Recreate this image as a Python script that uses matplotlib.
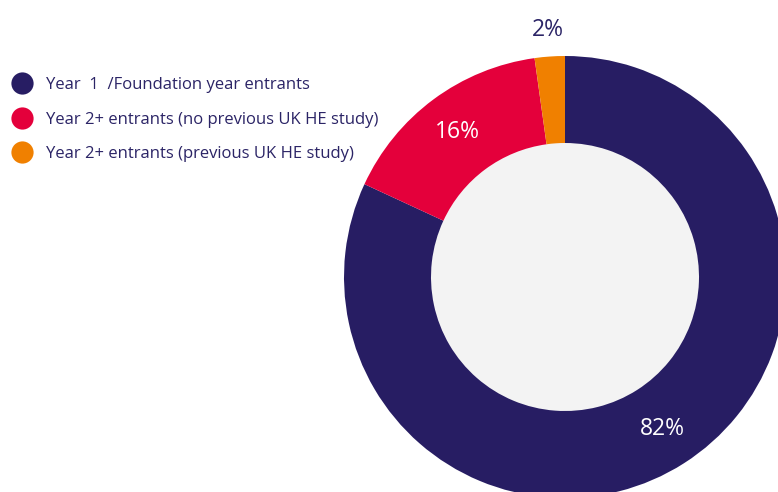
import matplotlib
matplotlib.use('Agg')
import numpy as np
import matplotlib.pyplot as plt
from matplotlib.lines import Line2D
from matplotlib.patches import Circle

# data
categories = ["Year  1  /Foundation year entrants",
              "Year 2+ entrants (no previous UK HE study)",
              "Year 2+ entrants (previous UK HE study)"]
values = [81.9, 15.9, 2.2]
labels = ["82%", "16%", "2%"]

colors = ['#271D63', '#E4003B', '#F08000']
textcol = '#2B2466'
holecol = '#F3F3F3'

plt.rcParams['font.family'] = ['Open Sans', 'DejaVu Sans']

fig = plt.figure(figsize=(7.78, 4.92), dpi=100)
ax = fig.add_axes([0, 0, 1, 1])

cx, cy, R, r = 565, 215, 221, 134

wedges, _ = ax.pie(values, colors=colors, startangle=90, counterclock=False,
                   center=(cx, cy), radius=R, frame=True,
                   wedgeprops=dict(width=R - r, linewidth=0))
ax.add_patch(Circle((cx, cy), r, color=holecol, zorder=0.5))
ax.set_xlim(0, 778)
ax.set_ylim(0, 492)
ax.set_aspect('equal')
ax.axis('off')

# percentage labels
tot = sum(values)
start = 90.0
for i, (v, lab) in enumerate(zip(values, labels)):
    mid = start - 360 * v / tot / 2
    start -= 360 * v / tot
    if i == 2:
        d, col = 1.12 * R, textcol
    else:
        d, col = 0.815 * R, 'white'
    x = cx + d * np.cos(np.radians(mid))
    y = cy + d * np.sin(np.radians(mid))
    ax.text(x, y, lab, color=col, fontsize=16.5, ha='center', va='center')

handles = [Line2D([], [], ls='', marker='o', markersize=16, markerfacecolor=c,
                  markeredgewidth=0) for c in colors]
leg = fig.legend(handles, categories, loc='upper left', bbox_to_anchor=(0.0, 0.86),
                 frameon=False, fontsize=12, labelspacing=1.1, handletextpad=0.65,
                 handlelength=1.6, borderaxespad=0.1)
for t in leg.get_texts():
    t.set_color(textcol)

fig.savefig('out.png', dpi=100)
